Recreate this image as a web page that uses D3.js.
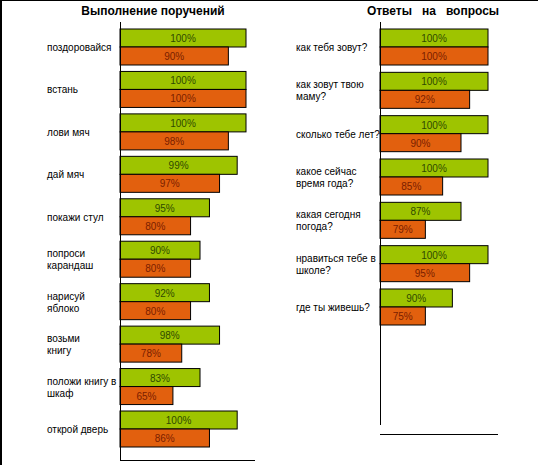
<!DOCTYPE html>
<html>
<head>
<meta charset="utf-8">
<script src="https://cdn.jsdelivr.net/npm/d3@7"></script>
<style>
  body { margin: 0; background: #fff; }
  svg { display: block; font-family: "Liberation Sans", Arial, sans-serif; }
</style>
</head>
<body>
<svg id="chart" width="538" height="465"></svg>
<script>
// left panel: tasks
var tasks = ["поздоровайся", "встань", "лови мяч", "дай мяч", "покажи стул",
  "попроси\nкарандаш", "нарисуй\nяблоко", "возьми\nкнигу", "положи книгу в\nшкаф", "открой дверь"];
var tasksGreen = [100, 100, 100, 99, 95, 90, 92, 98, 83, 100];
var tasksOrange = [90, 100, 98, 97, 80, 80, 80, 78, 65, 86];
// bar lengths as they are drawn in the picture (they don't follow the labels)
var tasksGreenDrawn = [100, 100, 100, 93, 71, 63.5, 71, 79, 63.5, 93];
var tasksOrangeDrawn = [86, 100, 86, 79, 56, 56, 56, 49, 42, 71];

// right panel: questions
var questions = ["как тебя зовут?", "как зовут твою\nмаму?", "сколько тебе лет?",
  "какое сейчас\nвремя года?", "какая сегодня\nпогода?", "нравиться тебе в\nшколе?", "где ты живешь?"];
var questionsGreen = [100, 100, 100, 100, 87, 100, 90];
var questionsOrange = [100, 92, 90, 85, 79, 95, 75];
var questionsGreenDrawn = [100, 100, 100, 100, 75, 100, 67];
var questionsOrangeDrawn = [100, 83, 75, 58, 42, 83, 42];

var green = "#9ec400", orange = "#e2600e";

var svg = d3.select("#chart");

// frame (top and left edges only)
svg.append("line").attr("x1", 0).attr("x2", 538).attr("y1", 0.5).attr("y2", 0.5).attr("stroke", "#000");
svg.append("line").attr("x1", 1).attr("x2", 1).attr("y1", 0).attr("y2", 465).attr("stroke", "#000").attr("stroke-width", 2);

function panel (opt) {
  var g = svg.append("g");
  var x = d3.scaleLinear().domain([0, 100]).range([opt.x0, opt.x1]);
  var y = d3.scaleBand().domain(opt.cats).range([opt.y0, opt.y1]).paddingInner(opt.pad);
  var sub = d3.scaleBand().domain(["g", "o"]).range([0, y.bandwidth()]);

  var rows = opt.cats.map((c, i) => ({
    cat: c,
    bars: [
      { k: "g", len: opt.gDrawn[i], val: opt.g[i] },
      { k: "o", len: opt.oDrawn[i], val: opt.o[i] }
    ]
  }));

  g.append("text")
    .attr("x", opt.titleX).attr("y", 15)
    .attr("text-anchor", "middle")
    .attr("font-size", 12).attr("font-weight", "bold")
    .style("white-space", "pre")
    .text(opt.title);

  var row = g.selectAll("g.row").data(rows).join("g")
    .attr("class", "row")
    .attr("transform", d => "translate(0," + y(d.cat) + ")");

  row.selectAll("rect").data(d => d.bars).join("rect")
    .attr("x", x(0))
    .attr("y", d => sub(d.k))
    .attr("width", d => x(d.len) - x(0))
    .attr("height", sub.bandwidth())
    .attr("fill", d => d.k === "g" ? green : orange)
    .attr("stroke", "#000").attr("stroke-width", 1);

  row.selectAll("text.val").data(d => d.bars).join("text")
    .attr("class", "val")
    .attr("x", d => (x(0) + x(d.len)) / 2)
    .attr("y", d => sub(d.k) + sub.bandwidth() / 2 + 4)
    .attr("text-anchor", "middle")
    .attr("font-size", 10)
    .attr("fill", d => d.k === "g" ? "#2f4a00" : "#7a1e00")
    .text(d => d.val + "%");

  row.each(function (d) {
    var lines = d.cat.split("\n");
    var t = d3.select(this).append("text")
      .attr("font-size", 10).attr("fill", "#000");
    lines.forEach((l, j) => {
      t.append("tspan")
        .attr("x", opt.labelX)
        .attr("y", y.bandwidth() / 2 + 4 + (j - (lines.length - 1) / 2) * 12)
        .text(l);
    });
  });

  // axes
  g.append("line")
    .attr("x1", x(0) + 0.5).attr("x2", x(0) + 0.5)
    .attr("y1", 22).attr("y2", opt.vEnd)
    .attr("stroke", "#000");
  g.append("line")
    .attr("x1", x(0)).attr("x2", opt.hEnd)
    .attr("y1", opt.hY + 0.5).attr("y2", opt.hY + 0.5)
    .attr("stroke", "#000");
}

panel({
  title: "Выполнение поручений", titleX: 153,
  cats: tasks, g: tasksGreen, o: tasksOrange, gDrawn: tasksGreenDrawn, oDrawn: tasksOrangeDrawn,
  x0: 120, x1: 246, y0: 29, y1: 447, pad: 0.152,
  labelX: 47, vEnd: 461, hY: 460, hEnd: 255
});

panel({
  title: "Ответы   на   вопросы", titleX: 433,
  cats: questions, g: questionsGreen, o: questionsOrange, gDrawn: questionsGreenDrawn, oDrawn: questionsOrangeDrawn,
  x0: 380, x1: 488, y0: 29, y1: 325, pad: 0.169,
  labelX: 296, vEnd: 425, hY: 434, hEnd: 498
});
</script>
</body>
</html>
